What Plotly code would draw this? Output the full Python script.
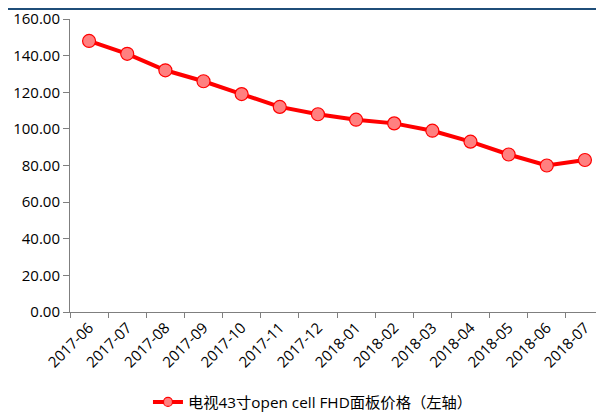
import plotly.graph_objects as go

months = ["2017-06", "2017-07", "2017-08", "2017-09", "2017-10", "2017-11", "2017-12",
          "2018-01", "2018-02", "2018-03", "2018-04", "2018-05", "2018-06", "2018-07"]
prices = [148, 141, 132, 126, 119, 112, 108, 105, 103, 99, 93, 86, 80, 83]
series_name = "电视43寸open cell FHD面板价格（左轴）"
y_ticks = [0, 20, 40, 60, 80, 100, 120, 140, 160]

FONT = "Open Sans, Noto Sans CJK SC, sans-serif"
RED = "#FF0000"
PINK = "#FF8080"

fig = go.Figure()
fig.add_trace(go.Scatter(
    x=months, y=prices, name=series_name, mode="lines+markers", showlegend=False,
    line=dict(color=RED, width=4),
    marker=dict(size=13, color=PINK, line=dict(color=RED, width=1.2)),
))
# legend entry (smaller marker, as in the reference)
fig.add_trace(go.Scatter(
    x=[months[0]], y=[None], name=series_name, mode="lines+markers", showlegend=True,
    line=dict(color=RED, width=4),
    marker=dict(size=9, color=PINK, line=dict(color=RED, width=1.2)),
))

fig.update_layout(
    width=596, height=407,
    margin=dict(l=62, r=0, t=11, b=103, autoexpand=False),
    paper_bgcolor="white", plot_bgcolor="white",
    font=dict(family=FONT, size=15, color="#000000"),
    showlegend=True,
    legend=dict(orientation="h", x=0.455, xanchor="center", y=-0.307, yanchor="middle",
                itemwidth=30,
                font=dict(family=FONT, size=15.3, color="#000000")),
    shapes=[dict(type="line", xref="paper", yref="paper", x0=-0.2, x1=1.0, y0=1.034, y1=1.034,
                 line=dict(color="#1F4E79", width=2))],
)
fig.update_xaxes(
    type="category", showgrid=False, showline=True, linecolor="#7F7F7F", linewidth=1,
    ticks="outside", tickson="boundaries", ticklen=5, tickcolor="#7F7F7F",
    tickangle=-45, tickfont=dict(size=15), range=[-0.5, 13.5], automargin=False,
)
fig.update_yaxes(
    range=[0, 160], tickvals=y_ticks, ticktext=[f"{v:.2f}" for v in y_ticks],
    showgrid=False, showline=True, linecolor="#7F7F7F", linewidth=1,
    ticks="outside", ticklen=6, tickcolor="#7F7F7F", tickfont=dict(size=15),
    zeroline=False, automargin=False,
)

fig.write_html("out.html")
